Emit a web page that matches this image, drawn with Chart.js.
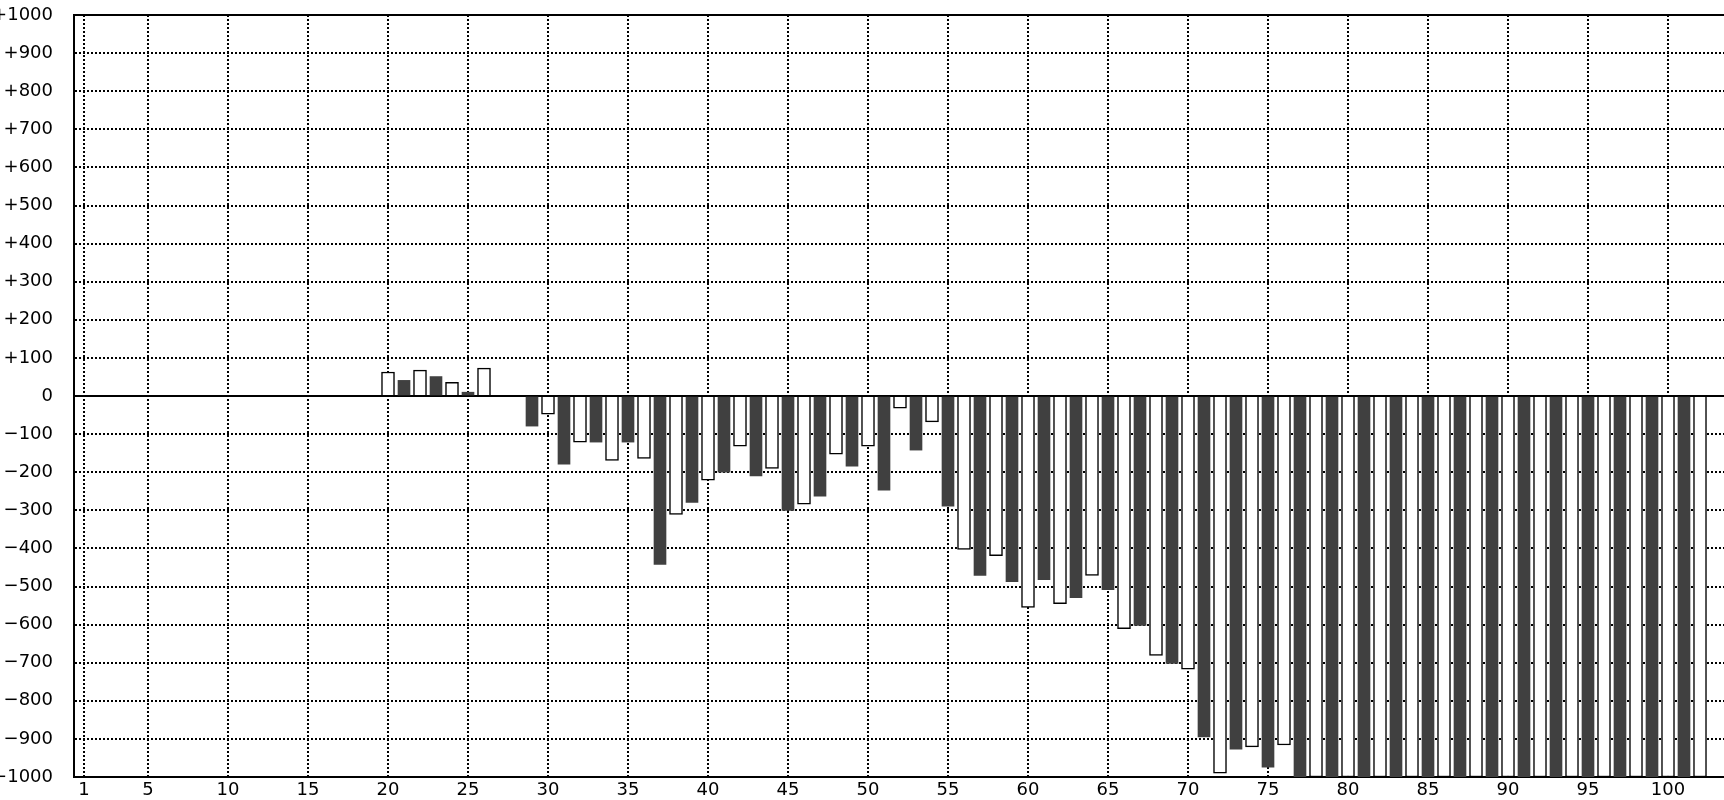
<!DOCTYPE html>
<html>
<head>
<meta charset="utf-8">
<script src="https://cdn.jsdelivr.net/npm/chart.js@4/dist/chart.umd.min.js"></script>
<style>
  html, body { margin: 0; padding: 0; background: #ffffff; overflow: hidden; width: 1724px; height: 800px; }
  #wrap { position: absolute; left: 0; top: 0; width: 1760px; height: 800px; }
</style>
</head>
<body>
<div id="wrap"><canvas id="c"></canvas></div>
<script>
// Categories (x positions) for each series
const whiteCategories = [20,22,24,26,28,30,32,34,36,38,40,42,44,46,48,50,52,54,56,58,60,62,64,66,68,70,72,74,76,78,80,82,84,86,88,90,92,94,96,98,100,102];
const whiteValues = [63,68,36,73,null,-48,-121,-169,-164,-311,-221,-132,-190,-284,-153,-132,-32,-68,-403,-419,-555,-545,-471,-611,-681,-717,-990,-921,-916,-1000,-1000,-1000,-1000,-1000,-1000,-1000,-1000,-1000,-1000,-1000,-1000,-1000];

const darkCategories = [21,23,25,27,29,31,33,35,37,39,41,43,45,47,49,51,53,55,57,59,61,63,65,67,69,71,73,75,77,79,81,83,85,87,89,91,93,95,97,99,101];
const darkValues = [41,51,10,null,-79,-179,-121,-121,-442,-279,-200,-210,-300,-263,-184,-247,-142,-289,-471,-487,-482,-529,-508,-602,-702,-895,-927,-974,-1000,-1000,-1000,-1000,-1000,-1000,-1000,-1000,-1000,-1000,-1000,-1000,-1000];

// Tick labels
const xTickValues = [1,5,10,15,20,25,30,35,40,45,50,55,60,65,70,75,80,85,90,95,100];
const yTickValues = [-1000,-900,-800,-700,-600,-500,-400,-300,-200,-100,0,100,200,300,400,500,600,700,800,900,1000];

const FONT = { family: 'DejaVu Sans', size: 18 };

const topBorder = {
  id: 'topBorder',
  afterDraw(chart) {
    const { ctx, chartArea } = chart;
    ctx.save();
    ctx.strokeStyle = '#000';
    ctx.lineWidth = 2;
    ctx.beginPath();
    ctx.moveTo(chartArea.left, Math.round(chartArea.top));
    ctx.lineTo(chartArea.right, Math.round(chartArea.top));
    ctx.stroke();
    ctx.restore();
  }
};

new Chart(document.getElementById('c'), {
  type: 'bar',
  data: {
    datasets: [
      {
        label: 'white',
        data: whiteCategories.map((c, i) => ({ x: c, y: whiteValues[i] })),
        backgroundColor: '#ffffff',
        borderColor: '#000000',
        borderWidth: 1.5,
        barThickness: 13,
        grouped: false
      },
      {
        label: 'dark',
        data: darkCategories.map((c, i) => ({ x: c, y: darkValues[i] })),
        backgroundColor: '#404040',
        borderWidth: 0,
        barThickness: 12,
        grouped: false
      }
    ]
  },
  plugins: [topBorder],
  options: {
    responsive: true,
    maintainAspectRatio: false,
    animation: false,
    layout: { padding: { top: 15, left: 0, right: 0, bottom: 0 } },
    plugins: { legend: { display: false }, tooltip: { enabled: false } },
    scales: {
      x: {
        type: 'linear',
        offset: false,
        min: 0.375,
        max: 105.75,
        afterBuildTicks: (scale) => { scale.ticks = xTickValues.map(v => ({ value: v })); },
        afterFit: (scale) => { scale.height = 23; scale.paddingLeft = 0; scale.paddingRight = 0; },
        ticks: { autoSkip: false, maxRotation: 0, color: '#000', font: FONT, padding: 3 },
        grid: { color: '#000', lineWidth: 2, drawTicks: false, offset: false },
        border: { display: true, color: '#000', width: 2, dash: [2, 2] }
      },
      y: {
        min: -1000,
        max: 1000,
        afterBuildTicks: (scale) => { scale.ticks = yTickValues.map(v => ({ value: v })); },
        afterFit: (scale) => { scale.width = 74; scale.paddingTop = 0; scale.paddingBottom = 0; },
        ticks: {
          autoSkip: false,
          color: '#000',
          font: FONT,
          padding: 21,
          callback: (v) => v > 0 ? '+' + v : (v < 0 ? '\u2212' + (-v) : '0')
        },
        grid: { color: '#000', lineWidth: 2, drawTicks: false },
        border: {
          display: true, color: '#000', width: 2,
          dash: (ctx) => (ctx.tick && ctx.tick.value === 0) ? [] : [2, 2]
        }
      }
    }
  }
});
</script>
</body>
</html>
